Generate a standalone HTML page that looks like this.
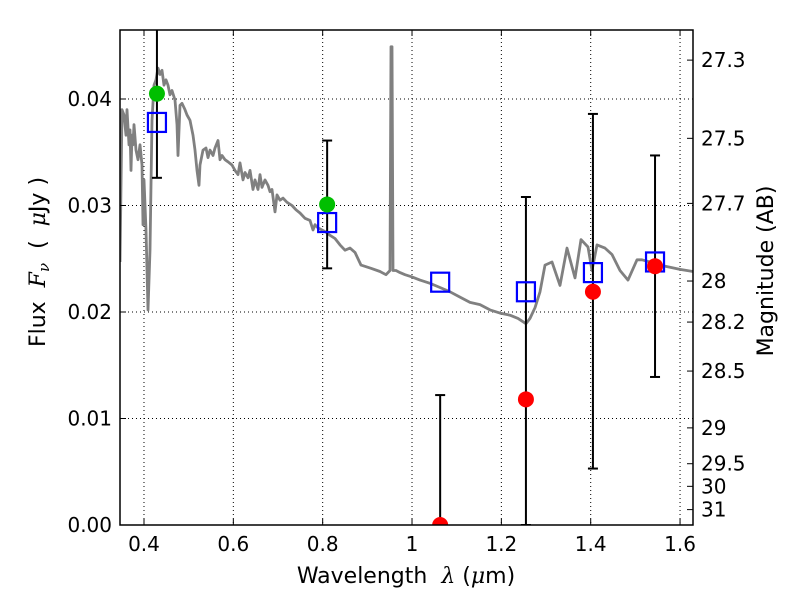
<!DOCTYPE html>
<html><head><meta charset="utf-8"><style>
body{margin:0;background:#fff;width:800px;height:600px;overflow:hidden;position:relative}
svg text{font-family:"DejaVu Sans","Liberation Sans",sans-serif;fill:#000}
</style></head><body>
<svg id="c" width="800" height="600" xmlns="http://www.w3.org/2000/svg"></svg>
<script>
const specX=[0.3463,0.3507,0.3552,0.3597,0.3619,0.3664,0.3687,0.3709,0.3731,0.3754,0.3776,0.3821,0.3866,0.3910,0.3955,0.3978,0.4000,0.4045,0.4090,0.4134,0.4179,0.4224,0.4269,0.4313,0.4358,0.4403,0.4448,0.4493,0.4537,0.4582,0.4627,0.4694,0.4739,0.4761,0.4806,0.4851,0.4918,0.4963,0.5030,0.5097,0.5142,0.5187,0.5231,0.5254,0.5321,0.5388,0.5433,0.5478,0.5545,0.5589,0.5657,0.5701,0.5746,0.5813,0.5880,0.5970,0.6037,0.6104,0.6149,0.6216,0.6261,0.6328,0.6373,0.6440,0.6485,0.6552,0.6597,0.6642,0.6709,0.6776,0.6821,0.6866,0.6933,0.6977,0.7045,0.7112,0.7201,0.7313,0.7403,0.7492,0.7604,0.7716,0.7783,0.7828,0.7895,0.7985,0.8074,0.8164,0.8276,0.8388,0.8500,0.8612,0.8724,0.8858,0.9082,0.9283,0.9418,0.9507,0.9530,0.9552,0.9574,0.9641,0.9731,0.9843,0.9999,1.0178,1.0402,1.0626,1.0850,1.1074,1.1298,1.1522,1.1746,1.1970,1.2193,1.2373,1.2552,1.2641,1.2753,1.2865,1.2977,1.3134,1.3313,1.3469,1.3648,1.3783,1.3940,1.4029,1.4141,1.4320,1.4477,1.4656,1.4835,1.5036,1.5148,1.5327,1.5551,1.5775,1.5999,1.6290];
const specY=[0.0247,0.0390,0.0385,0.0366,0.0390,0.0357,0.0371,0.0333,0.0366,0.0357,0.0376,0.0352,0.0343,0.0357,0.0338,0.0282,0.0324,0.0277,0.0202,0.0258,0.0380,0.0413,0.0418,0.0429,0.0423,0.0427,0.0413,0.0418,0.0413,0.0404,0.0408,0.0399,0.0376,0.0347,0.0394,0.0396,0.0390,0.0385,0.0380,0.0366,0.0352,0.0333,0.0319,0.0338,0.0352,0.0354,0.0345,0.0352,0.0347,0.0354,0.0361,0.0343,0.0347,0.0343,0.0341,0.0338,0.0333,0.0329,0.0340,0.0324,0.0331,0.0326,0.0333,0.0315,0.0324,0.0315,0.0329,0.0317,0.0324,0.0319,0.0313,0.0315,0.0294,0.0310,0.0305,0.0307,0.0303,0.0300,0.0296,0.0293,0.0288,0.0286,0.0277,0.0282,0.0279,0.0277,0.0275,0.0272,0.0269,0.0263,0.0258,0.0260,0.0256,0.0244,0.0241,0.0238,0.0235,0.0239,0.0449,0.0449,0.0239,0.0239,0.0237,0.0235,0.0233,0.0230,0.0227,0.0223,0.0219,0.0214,0.0209,0.0207,0.0202,0.0199,0.0197,0.0194,0.0189,0.0194,0.0204,0.0219,0.0244,0.0247,0.0225,0.0260,0.0232,0.0268,0.0261,0.0239,0.0263,0.0260,0.0254,0.0239,0.0230,0.0249,0.0249,0.0247,0.0244,0.0242,0.0240,0.0238];
const ptX=[0.429,0.810,1.063,1.255,1.405,1.544];
const greenY=[0.0405,0.0301];
const redY=[null,null,0.0,0.0118,0.0219,0.0243];
const blueY=[0.0378,0.0284,0.0228,0.0219,0.0237,0.0247];
const errLo=[0.0326,0.0241,0.0,0.0,0.0053,0.0139];
const errHi=[0.050,0.0361,0.0122,0.0308,0.0386,0.0347];
const xTicks=[0.4,0.6,0.8,1.0,1.2,1.4,1.6];
const xTickLabels=["0.4","0.6","0.8","1","1.2","1.4","1.6"];
const yTicks=[0,0.01,0.02,0.03,0.04];
const yTickLabels=["0.00","0.01","0.02","0.03","0.04"];
const magTicks=[27.3,27.5,27.7,28,28.2,28.5,29,29.5,30,31];

const L=120,R=693,T=30,B=525,x0=0.3463,x1=1.629,y0=0,y1=0.04648;
const sx=v=>L+(v-x0)/(x1-x0)*(R-L);
const sy=v=>B-(v-y0)/(y1-y0)*(B-T);
const svg=document.getElementById('c');
const NS='http://www.w3.org/2000/svg';
function mk(tag,attrs,parent){const e=document.createElementNS(NS,tag);for(const k in attrs)e.setAttribute(k,attrs[k]);(parent||svg).appendChild(e);return e;}
const defs=mk('defs',{});const cp=mk('clipPath',{id:'clip'},defs);mk('rect',{x:L,y:T,width:R-L,height:B-T},cp);

const grid=mk('g',{});


xTicks.forEach(v=>mk('line',{x1:sx(v),x2:sx(v),y1:T,y2:B,stroke:'#000','stroke-width':1,'stroke-dasharray':'1,3'},grid));
yTicks.forEach(v=>mk('line',{x1:L,x2:R,y1:sy(v),y2:sy(v),stroke:'#000','stroke-width':1,'stroke-dasharray':'1,3'},grid));

const plot=mk('g',{'clip-path':'url(#clip)'});
let d='';specX.forEach((v,i)=>{d+=(i?'L':'M')+sx(v).toFixed(1)+','+sy(specY[i]).toFixed(1);});
const sp=mk('path',{d:d,fill:'none',stroke:'#808080','stroke-width':2.8,'stroke-linejoin':'round'},plot);



ptX.forEach((v,i)=>{
  const g=mk('g',{},plot);
  
  
  const x=sx(v);
  mk('line',{x1:x,x2:x,y1:sy(errLo[i]),y2:sy(errHi[i]),stroke:'#000','stroke-width':2},g);
  [errLo[i],errHi[i]].forEach(e=>mk('line',{x1:x-5,x2:x+5,y1:sy(e),y2:sy(e),stroke:'#000','stroke-width':2},g));
});
ptX.forEach((v,i)=>{
  const s=mk('rect',{x:sx(v)-9,y:sy(blueY[i])-9.5,width:18,height:19,fill:'none',stroke:'#0000ff','stroke-width':2.2},plot);
  
  
});
greenY.forEach((v,i)=>{
  const c=mk('circle',{cx:sx(ptX[i]),cy:sy(v),r:8,fill:'#00bf00'},plot);
  
  
});
redY.forEach((v,i)=>{if(v===null)return;
  const c=mk('circle',{cx:sx(ptX[i]),cy:sy(v),r:8,fill:'#ff0000'},plot);
  
  
});

const frame=mk('rect',{x:L,y:T,width:R-L,height:B-T,fill:'none',stroke:'#000','stroke-width':1.5});



xTicks.forEach((v,i)=>{
  mk('line',{x1:sx(v),x2:sx(v),y1:B,y2:B-6,stroke:'#000'});
  mk('line',{x1:sx(v),x2:sx(v),y1:T,y2:T+6,stroke:'#000'});
  const t=mk('text',{x:sx(v),y:B+26,'font-size':20,'text-anchor':'middle'});t.textContent=xTickLabels[i];
  
  
});
yTicks.forEach((v,i)=>{
  mk('line',{x1:L,x2:L+6,y1:sy(v),y2:sy(v),stroke:'#000'});
  const t=mk('text',{x:L-8,y:sy(v)+7,'font-size':20,'text-anchor':'end'});t.textContent=yTickLabels[i];
  
  
});
magTicks.forEach(m=>{
  const f=Math.pow(10,(23.9-m)/2.5);const y=sy(f);
  mk('line',{x1:R,x2:R-6,y1:y,y2:y,stroke:'#000'});
  const t=mk('text',{x:R+8,y:y+7,'font-size':20});t.textContent=String(m);
  
  
});
</script>
<svg width="800" height="600" style="position:absolute;left:0;top:0" xmlns="http://www.w3.org/2000/svg">
<text x="406" y="583" font-size="22" text-anchor="middle" style="font-family:'DejaVu Sans',sans-serif" xml:space="preserve">Wavelength  <tspan font-style="italic" font-family="DejaVu Serif">λ</tspan> (<tspan font-style="italic" font-family="DejaVu Serif">μ</tspan>m)</text>
<text transform="translate(45,262) rotate(-90)" font-size="22" text-anchor="middle" style="font-family:'DejaVu Sans',sans-serif" xml:space="preserve">Flux  <tspan font-style="italic" font-family="DejaVu Serif">F</tspan><tspan font-style="italic" font-family="DejaVu Serif" font-size="15" dy="4">ν</tspan><tspan dy="-4">  (  </tspan><tspan font-style="italic" font-family="DejaVu Serif">μ</tspan>Jy )</text>
<text transform="translate(773,271) rotate(-90)" font-size="22" text-anchor="middle" style="font-family:'DejaVu Sans',sans-serif">Magnitude (AB)</text>
</svg>
</body></html>
